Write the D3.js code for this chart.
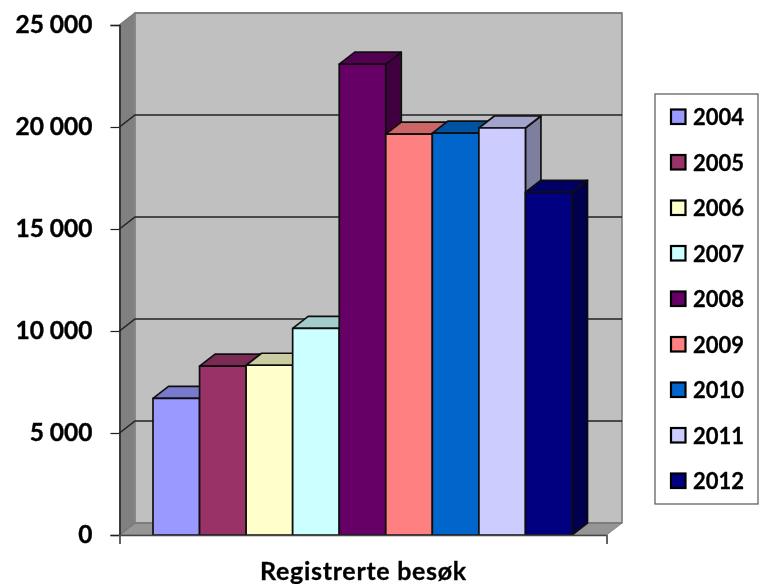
<!DOCTYPE html>
<html>
<head>
<meta charset="utf-8">
<script src="https://cdn.jsdelivr.net/npm/d3@7"></script>
<style>
  html, body { margin: 0; padding: 0; background: #fff; }
  svg { display: block; }
</style>
</head>
<body>
<div id="chart"></div>
<script>
const years = ['2004', '2005', '2006', '2007', '2008', '2009', '2010', '2011', '2012'];
const visits = [6700, 8280, 8320, 10130, 23080, 19650, 19700, 19950, 16800];
const barColors = ['#9999ff', '#993366', '#ffffcc', '#ccffff', '#660066', '#ff8080', '#0066cc', '#ccccff', '#000080'];
const yTicks = [0, 5000, 10000, 15000, 20000, 25000];
const xTitle = 'Registrerte besøk';

const width = 761;
const height = 584;
const fontFamily = 'Lato, Carlito, sans-serif';

// 3D offset of the back wall relative to the front plane
const depthX = 15.5;
const depthY = -12;

const svg = d3.select('#chart')
  .append('svg')
  .attr('width', width)
  .attr('height', height)
  .attr('viewBox', [0, 0, width, height]);

// The reference is a slightly soft bitmap
svg.append('filter')
  .attr('id', 'soft')
  .append('feGaussianBlur')
  .attr('stdDeviation', 0.45);

const root = svg.append('g').attr('filter', 'url(#soft)');

const y = d3.scaleLinear().domain([0, 25000]).range([535, 25]);
const plotX = d3.scaleLinear().domain([0, 1]).range([119.5, 606.5]);
const x = d3.scaleBand().domain(years).range([153, 572]);

const poly = pts => pts.map(p => p.join(',')).join(' ');
const shade = (c, k) => {
  const r = d3.rgb(c);
  return d3.rgb(r.r * k, r.g * k, r.b * k).formatHex();
};

const x0 = plotX(0);
const x1 = plotX(1);

// Walls and floor
root.append('polygon')
  .attr('points', poly([[x0 + depthX, y(25000) + depthY], [x1 + depthX, y(25000) + depthY], [x1 + depthX, y(0) + depthY], [x0 + depthX, y(0) + depthY]]))
  .attr('fill', '#c0c0c0')
  .attr('stroke', '#7a7a7a')
  .attr('stroke-width', 1.6);

root.append('polygon')
  .attr('points', poly([[x0, y(25000)], [x0 + depthX, y(25000) + depthY], [x0 + depthX, y(0) + depthY], [x0, y(0)]]))
  .attr('fill', '#808080')
  .attr('stroke', '#8c8c8c')
  .attr('stroke-width', 1);

root.append('polygon')
  .attr('points', poly([[x0, y(0)], [x0 + depthX, y(0) + depthY], [x1 + depthX, y(0) + depthY], [x1, y(0)]]))
  .attr('fill', '#969696')
  .attr('stroke', '#808080')
  .attr('stroke-width', 1);

// Gridlines run over the side wall and the back wall
root.append('g')
  .selectAll('polyline')
  .data(yTicks)
  .join('polyline')
  .attr('points', d => poly([[x0, y(d)], [x0 + depthX, y(d) + depthY], [x1 + depthX, y(d) + depthY]]))
  .attr('fill', 'none')
  .attr('stroke', d => (d === 0 || d === 25000) ? '#7a7a7a' : '#222')
  .attr('stroke-width', 1.5);

// Bars, left to right so that each one covers the side of the previous
const bars = root.append('g')
  .selectAll('g')
  .data(years.map((year, i) => ({ year, value: visits[i], color: barColors[i] })))
  .join('g')
  .attr('stroke', '#111')
  .attr('stroke-width', 1.7)
  .attr('stroke-linejoin', 'round');

bars.append('polygon')
  .attr('points', d => {
    const l = x(d.year) + x.bandwidth();
    return poly([[l, y(d.value)], [l + depthX, y(d.value) + depthY], [l + depthX, y(0) + depthY], [l, y(0)]]);
  })
  .attr('fill', d => shade(d.color, 0.62));

bars.append('polygon')
  .attr('points', d => {
    const l = x(d.year);
    const r = l + x.bandwidth();
    return poly([[l, y(d.value)], [l + depthX, y(d.value) + depthY], [r + depthX, y(d.value) + depthY], [r, y(d.value)]]);
  })
  .attr('fill', d => shade(d.color, 0.8));

bars.append('rect')
  .attr('x', d => x(d.year))
  .attr('y', d => y(d.value))
  .attr('width', x.bandwidth())
  .attr('height', d => y(0) - y(d.value))
  .attr('fill', d => d.color);

// Y axis
const yAxis = root.append('g')
  .attr('transform', `translate(${x0},0)`)
  .call(d3.axisLeft(y)
    .tickValues(yTicks)
    .tickSize(9)
    .tickPadding(18)
    .tickFormat(d => d3.format(',')(d).replace(/,/g, ' ')));

yAxis.select('.domain').attr('stroke', '#222').attr('stroke-width', 1.5);
yAxis.selectAll('.tick line').attr('stroke', '#222').attr('stroke-width', 1.2);
yAxis.selectAll('text')
  .style('font-family', fontFamily)
  .style('font-weight', 700)
  .style('font-size', '24.5px')
  .style('fill', '#000')
  .style('stroke', '#000')
  .style('stroke-width', 0.4);

// X axis line and its two end ticks
const xAxis = root.append('g')
  .attr('transform', `translate(0,${y(0)})`)
  .call(d3.axisBottom(plotX).tickValues([0, 1]).tickSize(9).tickFormat(''));

xAxis.select('.domain').attr('stroke', '#444').attr('stroke-width', 1.7);
xAxis.selectAll('.tick line').attr('stroke', '#666').attr('stroke-width', 1.2);

root.append('text')
  .attr('x', 363.5)
  .attr('y', 580)
  .attr('text-anchor', 'middle')
  .style('font-family', fontFamily)
  .style('font-weight', 700)
  .style('font-size', '25px')
  .style('letter-spacing', '0.7px')
  .style('fill', '#000')
  .style('stroke', '#000')
  .style('stroke-width', 0.3)
  .text(xTitle);

// Legend
root.append('rect')
  .attr('x', 655)
  .attr('y', 94)
  .attr('width', 103)
  .attr('height', 410)
  .attr('fill', '#fff')
  .attr('stroke', '#555')
  .attr('stroke-width', 1.2);

const legendY = d3.scalePoint().domain(years).range([117, 481]);

const legendRow = root.append('g')
  .selectAll('g')
  .data(years.map((year, i) => ({ year, color: barColors[i] })))
  .join('g')
  .attr('transform', d => `translate(0,${legendY(d.year)})`);

legendRow.append('rect')
  .attr('x', 671)
  .attr('y', -7.5)
  .attr('width', 14.5)
  .attr('height', 14.5)
  .attr('fill', d => d.color)
  .attr('stroke', '#000')
  .attr('stroke-width', 2.2);

legendRow.append('text')
  .attr('x', 693)
  .attr('y', 8)
  .style('font-family', fontFamily)
  .style('font-weight', 700)
  .style('font-size', '22px')
  .style('fill', '#000')
  .style('stroke', '#000')
  .style('stroke-width', 0.3)
  .text(d => d.year);
</script>
</body>
</html>
